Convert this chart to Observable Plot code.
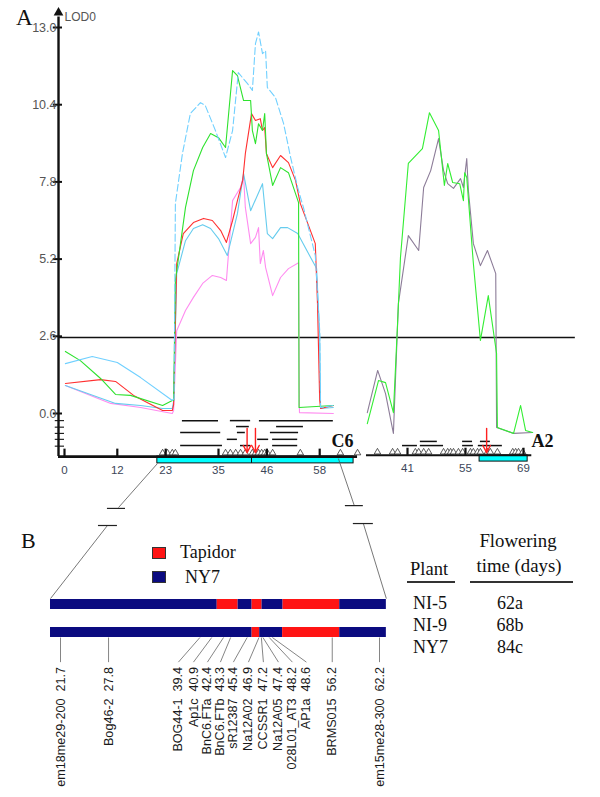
<!DOCTYPE html>
<html><head><meta charset="utf-8">
<script src="https://cdn.jsdelivr.net/npm/d3@7"></script>
<script src="https://cdn.jsdelivr.net/npm/@observablehq/plot@0.6"></script>
<style>
body{margin:0;background:#fff}
#fig{position:relative;width:600px;height:797px;overflow:hidden;background:#fff}
.t{position:absolute;font-family:"Liberation Serif","Times New Roman",serif;color:#111;white-space:nowrap;line-height:1}
.sw{position:absolute;border:1px solid #333;box-sizing:border-box}
.ul{position:absolute;height:1.5px;background:#333}
</style></head><body><div id="fig"></div>
<script>
// ---------- DATA ----------
// LOD axis
const yTicks = [0, 2.6, 5.2, 7.8, 10.4, 13.0];
const threshold = 2.56;
// C6 linkage group (cM) and A2 linkage group (cM)
const c6Ticks = [0, 12, 23, 35, 46, 58];
const a2Ticks = [41, 55, 69];
// LOD profiles on C6: [cM, LOD]
const c6DashedBlue = [[0.2,1.68],[6.3,1.92],[12,1.72],[17.3,1.21],[24.5,0.44],[24.9,0.5],[25.2,7.07],[26.8,8.75],[28.6,10.1],[30.9,10.47],[32.0,10.37],[34.3,9.53],[36.6,8.62],[38.2,9.53],[39.5,11.48],[41.6,11.11],[42.7,10.88],[43.4,12.46],[44.1,12.85],[45.0,12.12],[45.7,12.22],[46.1,10.98],[47.95,10.64],[49.8,9.76],[51.4,8.62],[53.0,7.61],[54.3,6.94],[57.0,5.32],[58.0,2.79],[58.2,0.2],[61.1,0.27]];
const c6Green = [[0.2,2.09],[3.6,1.78],[8.2,1.18],[11.6,0.64],[15,0.61],[22.3,0.27],[24.5,0.44],[24.8,0.44],[25.2,4.48],[27.5,6.94],[29.3,8.18],[31.4,8.96],[33.2,9.43],[35.0,9.29],[36.6,8.96],[38.2,11.55],[39.3,11.38],[40.7,10.54],[42.3,10.54],[42.7,9.53],[43.4,9.09],[44.1,9.76],[45.0,9.53],[45.5,10.1],[45.9,8.75],[47.3,7.68],[49.1,8.28],[50.9,8.11],[53.2,7.1],[53.3,0.2],[61.1,0.27]];
const c6Red = [[0.2,1.01],[8.2,1.14],[11.6,1.08],[15.7,0.61],[22.3,0.1],[24.5,0.1],[24.8,0.3],[25.5,5.05],[27.0,6.06],[29.3,6.43],[31.6,6.57],[33.6,6.5],[35.5,6.16],[36.8,5.76],[38.2,6.5],[39.3,7.17],[40.5,7.85],[41.1,8.75],[42.5,10.1],[43.4,9.87],[44.5,9.93],[45.0,9.53],[45.5,9.63],[45.9,8.75],[47.3,8.28],[49.1,8.69],[50.9,8.45],[52.5,7.85],[53.6,7.07],[57.0,5.72],[57.5,3.7],[58.0,0.44],[58.2,0.17],[61.1,0.27]];
const c6Blue = [[0.2,0.94],[11.6,0.34],[17.3,0.27],[22.3,0.17],[24.5,0.17],[24.8,0.4],[25.5,4.71],[27.5,5.82],[29.3,6.23],[31.4,6.36],[33.2,6.23],[35.0,5.89],[37.0,5.32],[39.3,6.73],[40.7,8.08],[42.3,6.83],[45.0,7.74],[46.1,6.06],[47.3,5.89],[49.1,6.26],[50.7,6.26],[53.0,6.06],[57.3,4.88],[58.0,2.63],[58.2,0.17],[61.1,0.2]];
const c6Pink = [[0.2,0.94],[10.5,0.34],[17.3,0.2],[24.5,0],[24.8,0.1],[25.5,2.79],[27.5,3.47],[29.3,3.91],[31.4,4.38],[33.6,4.65],[35.5,4.58],[36.8,4.48],[38.2,7.17],[40.0,7.61],[40.7,8.0],[41.1,6.94],[42.3,5.72],[43.4,5.93],[44.1,6.26],[44.5,5.05],[45.2,5.49],[45.7,4.92],[47.3,3.97],[49.1,4.58],[50.9,4.88],[53.2,5.08],[53.4,0.03],[61.1,0]];
// LOD profiles on A2: [cM, LOD]
const a2Grey = [[31.3,0.03],[33.8,1.45],[35.7,0.67],[37.6,-0.67],[38.8,3.7],[41.2,5.99],[43.7,5.49],[44.9,7.61],[46.6,8.18],[48.5,9.26],[49.7,8.18],[50.7,7.74],[52.1,7.58],[53.8,7.91],[54.5,7.61],[55.3,8.59],[55.7,7.51],[56.9,5.72],[58.6,4.98],[60.3,5.49],[62.3,4.71],[62.5,-0.47],[66.6,-0.67],[71.2,-0.64]];
const a2Green = [[31.3,-0.34],[34.0,1.11],[35.7,1.04],[37.6,0.03],[38.6,3.03],[39.3,5.25],[41.2,8.42],[44.6,8.92],[46.3,10.13],[48.5,9.53],[49.9,7.68],[50.7,8.42],[51.9,7.78],[53.6,7.74],[54.5,7.17],[54.8,8.11],[55.3,7.95],[56.9,5.05],[58.6,2.46],[60.5,3.97],[62.5,2.02],[62.7,-0.47],[66.6,-0.67],[68.3,0.27],[69.5,-0.57],[71.2,-0.64]];
// markers on the linkage maps (cM)
const c6Markers = [22.3,23.4,24.5,25.2,36.6,37.7,38.9,40.0,41.1,42.7,43.4,44.1,44.8,45.5,46.1,47.3,53.6,62.7,66.6];
const a2Markers = [33.75,37.4,38.6,42.9,43.7,44.9,46.1,49.7,50.7,51.4,52.1,53.3,54.3,56.2,56.9,57.9,58.6,60.3,61.0,62.7,66.4,67.1,67.8,68.8];
// QTL confidence intervals: [from cM, to cM, row]
const c6Intervals = [[26.8,35.0,-0.24],[37.7,42.3,-0.24],[44.3,61.1,-0.24],[39.1,42.0,-0.44],[48.2,54.3,-0.44],[26.4,35.5,-0.64],[39.3,41.1,-0.64],[46.8,53.2,-0.64],[37.0,39.3,-0.87],[43.9,46.4,-0.87],[47.3,53.0,-0.87],[26.4,35.9,-1.08],[40.0,42.3,-1.08],[47.3,53.0,-1.08]];
const a2Intervals = [[44.1,48.2,-0.94],[54.3,56.7,-0.94],[58.6,61.0,-0.94],[39.8,43.4,-1.08],[44.1,49.7,-1.08],[54.3,56.9,-1.08],[58.1,63.9,-1.08]];
const c6Rows = [-0.24,-0.46,-0.67,-0.87,-1.1];
const c6Arrows = [41.5, 43.4];
const a2Arrows = [60.1];
const c6Segment = [21.1, 65.7];
const c6Divider = [42.5];
const a2Segment = [58.4, 70.0];
// Part B: graphical genotypes
const plants = ["NI-5", "NI-9"];
const genotypes = ["Tapidor", "NY7"];
const ni5Segments = [[20.43,41.6,"NY7"],[41.6,44.25,"Tapidor"],[44.25,46.03,"NY7"],[46.03,47.29,"Tapidor"],[47.29,49.96,"NY7"],[49.96,57.15,"Tapidor"],[57.15,63.07,"NY7"]];
const ni9Segments = [[20.43,46.03,"NY7"],[46.03,46.99,"Tapidor"],[46.99,49.9,"NY7"],[49.9,57.15,"Tapidor"],[57.15,63.07,"NY7"]];
const markerNames = ["em18me29-200","Bog46-2","BOG44-1","Ap1c","BnC6.FTa","BnC6.FTb","sR12387","Na12A02","CCSSR1","Na12A05","028L01_AT3","AP1a","BRMS015","em15me28-300"];
const markerPos = [21.7,27.8,39.4,40.9,42.4,43.3,45.4,46.9,47.2,47.4,48.2,48.6,56.2,62.2];
const markerLabelPos = [21.7,27.8,36.67,38.58,40.35,42.0,43.65,45.56,47.46,49.37,51.14,52.92,56.2,62.2];
// zoom guide lines linking C6 to part B: [x1,y1,x2,y2] and ticks [x1,x2,y]
const guideLines = [[34.0,-6.21,29.06,-4.64],[27.66,-4.0,20.43,-1.39],[56.98,-6.39,59.0,-4.71],[60.15,-4.07,63.07,-1.39]];
const guideTicks = [[27.66,29.95,-4.61],[26.52,28.93,-4.0],[57.87,60.15,-4.71],[58.88,61.42,-4.07]];
// table
const tablePlants = ["NI-5","NI-9","NY7"];
const tableTimes = ["62a","68b","84c"];

// ---------- LAYOUT ----------
const fig = document.getElementById("fig");
const SANS = "Liberation Sans, Arial, sans-serif";
const SERIF = "Liberation Serif, Times New Roman, serif";
const style = {position:"absolute", left:"0px", top:"0px", background:"transparent", overflow:"visible", fontFamily:SANS};
const yLOD = {domain:[0,13], range:[413,27], axis:null};
const AXIS_X = -1.36, BASE_C6 = -1.45, BAR_C6 = -1.68, BASE_A2 = -1.41, BAR_A2 = -1.62, FLANK = 24.5;
const line = (arr, stroke, extra = {}) => Plot.line(arr, {x: d => d[0], y: d => d[1], stroke, strokeWidth: 1.1, ...extra});
const ci = arr => Plot.ruleY(arr, {y: d => d[2], x1: d => d[0], x2: d => d[1], stroke: "#111", strokeWidth: 1.5});
const tri = (arr, y) => Plot.dot(arr, {x: d => d, y, symbol: "triangle", r: 2.4, stroke: "#333", fill: "white", strokeWidth: 0.8});
const arrows = arr => Plot.arrow(arr, {x1: d => d, x2: d => d, y1: -0.5, y2: -1.32, stroke: "#ff2020", strokeWidth: 1.4, headLength: 9, headAngle: 55});

const plotC6 = Plot.plot({
  width: 600, height: 797, margin: 0, style,
  x: {domain: [0, 58], range: [64, 319.2], axis: null}, y: yLOD,
  marks: [
    Plot.ruleY([threshold], {x1: AXIS_X, x2: 116.1, stroke: "#111", strokeWidth: 1.4}),
    line(c6Pink, "#ff8cf0"),
    line(c6Blue, "#66ccee"),
    line(c6Red, "#ff3030"),
    line(c6Green, "#2ee22e"),
    line(c6DashedBlue.filter(d => d[0] <= FLANK), "#70d0ff"),
    line(c6DashedBlue.filter(d => d[0] >= FLANK), "#70d0ff", {strokeDasharray: "7,3"}),
    Plot.ruleX([AXIS_X], {y1: BASE_C6, y2: 13.35, stroke: "#111", strokeWidth: 2.4}),
    Plot.dot([13.5], {x: AXIS_X, y: d => d, symbol: "triangle", r: 3.6, fill: "#111", stroke: "none"}),
    Plot.ruleY(yTicks, {x1: -2.55, x2: -0.45, stroke: "#111", strokeWidth: 2}),
    Plot.ruleY(c6Rows, {x1: -2.1, x2: 0, stroke: "#111", strokeWidth: 1.1}),
    Plot.text(yTicks, {x: AXIS_X, y: d => d, dx: -2, text: d => d.toFixed(1), textAnchor: "end", fontSize: 12.5, fill: "#555"}),
    Plot.text(["LOD0"], {x: AXIS_X, y: 13.35, dx: 6, text: d => d, textAnchor: "start", fontSize: 12, fill: "#555"}),
    ci(c6Intervals),
    tri(c6Markers, -1.33),
    Plot.rect([c6Segment], {x1: d => d[0], x2: d => d[1], y1: BASE_C6, y2: BAR_C6, fill: "#00ffff", stroke: "#111", strokeWidth: 1}),
    Plot.ruleX(c6Divider, {y1: BASE_C6, y2: BAR_C6, stroke: "#111", strokeWidth: 1}),
    Plot.ruleY([BASE_C6], {x1: AXIS_X, x2: 66.6, stroke: "#111", strokeWidth: 2.8}),
    Plot.ruleX(c6Ticks, {y1: BASE_C6, y2: -1.2, stroke: "#111", strokeWidth: 2.2}),
    Plot.text(c6Ticks, {x: d => d, y: -1.92, text: d => String(d), fontSize: 11.5, fill: "#3c4658"}),
    arrows(c6Arrows),
    Plot.text(["C6"], {x: 63.2, y: -0.94, text: d => d, fontFamily: SERIF, fontWeight: "bold", fontSize: 18, fill: "#111"})
  ]
});

const plotA2 = Plot.plot({
  width: 600, height: 797, margin: 0, style,
  x: {domain: [41, 69], range: [407, 523], axis: null}, y: yLOD,
  marks: [
    line(a2Grey, "#8c7c98"),
    line(a2Green, "#33ee33"),
    ci(a2Intervals),
    tri(a2Markers, -1.3),
    Plot.rect([a2Segment], {x1: d => d[0], x2: d => d[1], y1: BASE_A2, y2: BAR_A2, fill: "#00ffff", stroke: "#111", strokeWidth: 1}),
    Plot.ruleY([BASE_A2], {x1: 31.1, x2: 71.0, stroke: "#111", strokeWidth: 2}),
    Plot.ruleX(a2Ticks, {y1: BASE_A2, y2: -1.17, stroke: "#111", strokeWidth: 2.2}),
    Plot.text(a2Ticks, {x: d => d, y: -1.84, text: d => String(d), fontSize: 11.5, fill: "#3c4658"}),
    arrows(a2Arrows),
    Plot.text(["A2"], {x: 73.6, y: -0.94, text: d => d, fontFamily: SERIF, fontWeight: "bold", fontSize: 18, fill: "#111"})
  ]
});

const segs = [...ni5Segments.map(s => ({plant: plants[0], x1: s[0], x2: s[1], g: s[2]})),
              ...ni9Segments.map(s => ({plant: plants[1], x1: s[0], x2: s[1], g: s[2]}))];
const xB = {domain: [21.7, 62.2], range: [60, 379], axis: null};
const plotBars = Plot.plot({
  width: 600, height: 797, margin: 0, style,
  x: xB,
  y: {type: "band", domain: plants, range: [598, 637], paddingInner: 0.655, paddingOuter: 0, axis: null},
  color: {domain: genotypes, range: ["#ff1414", "#0b0b80"]},
  marks: [Plot.barX(segs, {x1: "x1", x2: "x2", y: "plant", fill: "g"})]
});

const markers = markerNames.map((n, i) => ({name: n, pos: markerPos[i], lab: markerLabelPos[i]}));
const plotLabels = Plot.plot({
  width: 600, height: 797, margin: 0, style,
  x: xB, y: {domain: [0, 1], range: [637, 665], axis: null},
  marks: [
    Plot.link(guideLines, {x1: d => d[0], y1: d => d[1], x2: d => d[2], y2: d => d[3], stroke: "#555", strokeWidth: 0.8}),
    Plot.ruleY(guideTicks, {x1: d => d[0], x2: d => d[1], y: d => d[2], stroke: "#222", strokeWidth: 1.2}),
    Plot.link(markers, {x1: "pos", x2: "lab", y1: 0, y2: 0.88, stroke: "#666", strokeWidth: 0.8}),
    Plot.text(markers, {x: "lab", y: 1.05, text: d => d.name + "\u00a0\u00a0" + d.pos.toFixed(1), rotate: -90, textAnchor: "end", fontSize: 12.6, fill: "#1a1a1a"})
  ]
});

[plotC6, plotA2, plotBars, plotLabels].forEach(p => fig.appendChild(p));

// ---------- ANNOTATIONS (HTML text) ----------
function txt(s, x, base, size, anchor = "start") {
  const d = document.createElement("div");
  d.className = "t";
  d.textContent = s;
  d.style.fontSize = size + "px";
  d.style.top = (base - 0.8375 * size) + "px";
  d.style.left = x + "px";
  if (anchor === "middle") d.style.transform = "translateX(-50%)";
  fig.appendChild(d);
}
function box(cls, x, y, w, h, bg) {
  const d = document.createElement("div");
  d.className = cls;
  Object.assign(d.style, {left: x + "px", top: y + "px", width: w + "px", height: h + "px", background: bg});
  fig.appendChild(d);
}
txt("A", 16, 25, 23);
txt("B", 21, 548, 22);
box("sw", 152, 547, 14, 12, "#ff1414");
box("sw", 152, 571, 14, 12, "#0b0b80");
txt(genotypes[0], 180, 558, 18);
txt(genotypes[1], 185, 583, 18);
txt("Flowering", 518, 548, 18.8, "middle");
txt("time (days)", 519, 573, 18.8, "middle");
txt("Plant", 410, 575, 18.5);
box("ul", 407, 581, 48, 1.5, "#333");
box("ul", 470, 581, 103, 1.5, "#333");
const rowBase = [609, 631, 653];
tablePlants.forEach((p, i) => { txt(p, 413, rowBase[i], 18); txt(tableTimes[i], 510, rowBase[i], 18, "middle"); });
</script></body></html>
